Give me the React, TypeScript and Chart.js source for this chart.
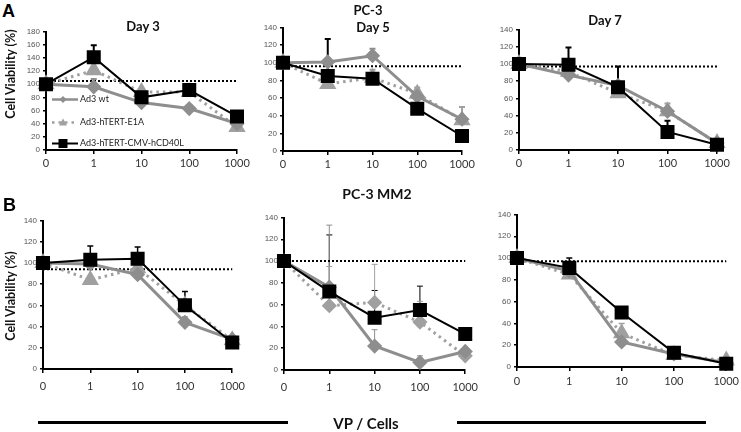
import React, { useEffect, useRef } from 'react';
import { Chart, registerables } from 'chart.js';
Chart.register(...registerables);

// ---------- data ----------
const doses = ['0', '1', '10', '100', '1000'];
const seriesNames = ['Ad3 wt', 'Ad3-hTERT-E1A', 'Ad3-hTERT-CMV-hCD40L'];

// A: PC-3, Day 3
const a3Wt = [100, 96, 72, 63, 40];
const a3E1a = [100, 121, 88, 88, 35];
const a3Cd40l = [100, 141, 80, 91, 51];
const a3WtErr = [0, 12, 0, 5, 0];
const a3E1aErr = [0, 0, 0, 0, 0];
const a3Cd40lErr = [0, 18, 0, 0, 0];
const a3Ref = [105, 105, 105, 105, 105];

// A: PC-3, Day 5
const a5Wt = [100, 101, 108, 62, 36];
const a5E1a = [100, 76, 83, 65, 35];
const a5Cd40l = [100, 85, 82, 48, 17];
const a5WtErr = [0, 0, 8, 0, 0];
const a5E1aErr = [0, 0, 9, 7, 15];
const a5Cd40lErr = [0, 42, 0, 0, 0];
const a5Ref = [96, 96, 96, 96, 96];

// A: PC-3, Day 7
const a7Wt = [100, 87, 75, 45, 8];
const a7E1a = [100, 91, 66, 45, 8];
const a7Cd40l = [100, 99, 73, 21, 6];
const a7WtErr = [0, 0, 0, 0, 0];
const a7E1aErr = [0, 0, 0, 9, 0];
const a7Cd40lErr = [0, 20, 24, 13, 0];
const a7Ref = [97, 97, 97, 97, 97];

// B: PC-3 MM2, Day 3
const b3Wt = [100, 99, 89, 44, 28];
const b3E1a = [100, 84, 95, 60, 27];
const b3Cd40l = [100, 103, 104, 60, 25];
const b3WtErr = [0, 0, 0, 5, 0];
const b3E1aErr = [0, 0, 0, 0, 0];
const b3Cd40lErr = [0, 13, 11, 13, 0];
const b3Ref = [94, 94, 94, 94, 94];

// B: PC-3 MM2, Day 5
const b5Wt = [100, 76, 22, 7, 17];
const b5E1a = [100, 59, 62, 44, 13];
const b5Cd40l = [100, 72, 48, 55, 33];
const b5WtErr = [0, 57, 15, 6, 0];
const b5E1aErr = [0, 36, 35, 19, 0];
const b5Cd40lErr = [0, 52, 25, 22, 0];
const b5Ref = [100, 100, 100, 100, 100];

// B: PC-3 MM2, Day 7
const b7Wt = [100, 88, 23, 12, 4];
const b7E1a = [100, 85, 31, 11, 6];
const b7Cd40l = [100, 91, 50, 13, 3];
const b7WtErr = [0, 0, 0, 0, 0];
const b7E1aErr = [0, 0, 9, 0, 0];
const b7Cd40lErr = [0, 9, 5, 0, 0];
const b7Ref = [97, 97, 97, 97, 97];

// ---------- styles / layout ----------
const GRAY = '#8e8e8e';
const LGRAY = '#a0a0a0';
const YW = 34;
const PT = 10;
const PR = 16;
const XH = 24;

type PanelDef = {
  left: number; right: number; top: number; bottom: number; yMax: number;
  wt: number[]; e1a: number[]; cd40l: number[]; ref: number[];
  wtErr: number[]; e1aErr: number[]; cd40lErr: number[];
  e1aStyle: string; xPad: number; errW: number; legend?: boolean;
};

const panels: PanelDef[] = [
  { left: 46, right: 237, top: 31, bottom: 150, yMax: 180, wt: a3Wt, e1a: a3E1a, cd40l: a3Cd40l, ref: a3Ref, wtErr: a3WtErr, e1aErr: a3E1aErr, cd40lErr: a3Cd40lErr, e1aStyle: 'triangle', xPad: 3, errW: 2, legend: true },
  { left: 283, right: 462, top: 27, bottom: 151, yMax: 140, wt: a5Wt, e1a: a5E1a, cd40l: a5Cd40l, ref: a5Ref, wtErr: a5WtErr, e1aErr: a5E1aErr, cd40lErr: a5Cd40lErr, e1aStyle: 'triangle', xPad: 3, errW: 2 },
  { left: 519, right: 717, top: 29, bottom: 150, yMax: 140, wt: a7Wt, e1a: a7E1a, cd40l: a7Cd40l, ref: a7Ref, wtErr: a7WtErr, e1aErr: a7E1aErr, cd40lErr: a7Cd40lErr, e1aStyle: 'triangle', xPad: 3, errW: 2 },
  { left: 43, right: 236, top: 220, bottom: 369, yMax: 140, wt: b3Wt, e1a: b3E1a, cd40l: b3Cd40l, ref: b3Ref, wtErr: b3WtErr, e1aErr: b3E1aErr, cd40lErr: b3Cd40lErr, e1aStyle: 'triangle', xPad: 7, errW: 1.5 },
  { left: 284, right: 469, top: 217, bottom: 370, yMax: 140, wt: b5Wt, e1a: b5E1a, cd40l: b5Cd40l, ref: b5Ref, wtErr: b5WtErr, e1aErr: b5E1aErr, cd40lErr: b5Cd40lErr, e1aStyle: 'rectRot', xPad: 7, errW: 1 },
  { left: 517, right: 727, top: 214, bottom: 367, yMax: 140, wt: b7Wt, e1a: b7E1a, cd40l: b7Cd40l, ref: b7Ref, wtErr: b7WtErr, e1aErr: b7E1aErr, cd40lErr: b7Cd40lErr, e1aStyle: 'triangle', xPad: 4, errW: 1.5 },
];

const errorBarPlugin = {
  id: 'errorBars',
  beforeDatasetsDraw(chart: any) {
    const ctx = chart.ctx;
    const y = chart.scales.y;
    chart.data.datasets.forEach((ds: any, i: number) => {
      if (!ds.err) return;
      const meta = chart.getDatasetMeta(i);
      ds.err.forEach((e: number, j: number) => {
        if (!e) return;
        const pt = meta.data[j];
        const yTop = y.getPixelForValue(ds.data[j] + e);
        ctx.save();
        ctx.strokeStyle = ds.borderColor;
        ctx.lineWidth = ds.errW || 1.5;
        ctx.setLineDash([]);
        ctx.beginPath();
        ctx.moveTo(pt.x, pt.y);
        ctx.lineTo(pt.x, yTop);
        ctx.moveTo(pt.x - 3, yTop);
        ctx.lineTo(pt.x + 3, yTop);
        ctx.stroke();
        ctx.restore();
      });
    });
  },
};

const legendPlugin = {
  id: 'insideLegend',
  afterDraw(chart: any) {
    if (!chart.options.plugins.insideLegend?.show) return;
    const ctx = chart.ctx;
    const a = chart.chartArea;
    const x0 = a.left + 6, x1 = a.left + 32, tx = a.left + 34;
    const rows = [
      { y: a.top + 68, name: seriesNames[0], color: GRAY, dash: [] as number[], w: 2.5, kind: 'diamond' },
      { y: a.top + 91, name: seriesNames[1], color: LGRAY, dash: [2.5, 4], w: 2.5, kind: 'triangle' },
      { y: a.top + 112, name: seriesNames[2], color: '#000', dash: [] as number[], w: 2, kind: 'square' },
    ];
    ctx.save();
    rows.forEach((r) => {
      ctx.strokeStyle = r.color;
      ctx.lineWidth = r.w;
      ctx.setLineDash(r.dash);
      ctx.beginPath();
      ctx.moveTo(x0, r.y);
      ctx.lineTo(x1, r.y);
      ctx.stroke();
      ctx.setLineDash([]);
      ctx.fillStyle = r.color;
      const cx = (x0 + x1) / 2 - 2;
      ctx.beginPath();
      if (r.kind === 'diamond') {
        ctx.moveTo(cx, r.y - 3.5); ctx.lineTo(cx + 3.5, r.y); ctx.lineTo(cx, r.y + 3.5); ctx.lineTo(cx - 3.5, r.y);
      } else if (r.kind === 'triangle') {
        ctx.moveTo(cx, r.y - 4); ctx.lineTo(cx + 4, r.y + 3); ctx.lineTo(cx - 4, r.y + 3);
      } else {
        ctx.rect(cx - 4.5, r.y - 4.5, 9, 9);
      }
      ctx.closePath();
      ctx.fill();
      ctx.fillStyle = '#222';
      ctx.font = '9px Lato, "Open Sans", sans-serif';
      ctx.textBaseline = 'middle';
      ctx.fillText(r.name, tx, r.y);
    });
    ctx.restore();
  },
};

function Panel({ p }: { p: PanelDef }) {
  const ref = useRef<HTMLCanvasElement>(null);
  const cLeft = p.left - YW;
  const cTop = p.top - PT;
  const width = p.right + PR - cLeft;
  const height = p.bottom + XH - cTop;
  useEffect(() => {
    if (!ref.current) return;
    const chart = new Chart(ref.current, {
      type: 'line',
      data: {
        labels: doses,
        datasets: [
          { label: seriesNames[2], data: p.cd40l, borderColor: '#000', backgroundColor: '#000', pointBorderColor: '#000', borderWidth: 2, pointStyle: 'rect', pointRadius: 8.5, order: 0, clip: false, err: p.cd40lErr, errW: p.errW } as any,
          { label: seriesNames[0], data: p.wt, borderColor: GRAY, backgroundColor: GRAY, pointBorderColor: GRAY, borderWidth: 3, pointStyle: 'rectRot', pointRadius: 5.5, order: 1, clip: false, err: p.wtErr, errW: p.errW } as any,
          { label: seriesNames[1], data: p.e1a, borderColor: LGRAY, backgroundColor: LGRAY, pointBorderColor: LGRAY, borderWidth: 3, borderDash: [2.5, 4], pointStyle: p.e1aStyle, pointRadius: p.e1aStyle === 'triangle' ? 7 : 5.5, order: 2, clip: false, err: p.e1aErr, errW: p.errW } as any,
          { label: 'ref', data: p.ref, borderColor: '#000', borderWidth: 2, borderDash: [2, 2], pointRadius: 0, order: 3, clip: false } as any,
        ],
      },
      options: {
        animation: false,
        responsive: false,
        devicePixelRatio: 1,
        events: [],
        layout: { padding: { top: PT, right: PR, left: 0, bottom: 0 } },
        plugins: { legend: { display: false }, tooltip: { enabled: false }, insideLegend: { show: !!p.legend } } as any,
        elements: { line: { tension: 0 } },
        scales: {
          x: {
            type: 'category',
            offset: false,
            grid: { drawOnChartArea: false, drawTicks: true, tickLength: 4, color: '#000', lineWidth: 1.5 },
            border: { display: true, color: '#000', width: 2 },
            ticks: { font: { family: 'Lato, "Open Sans", sans-serif', size: 11 }, color: '#333', padding: p.xPad, maxRotation: 0, autoSkip: false },
            afterFit: (s: any) => { s.height = XH; },
          },
          y: {
            min: 0,
            max: p.yMax,
            grid: { drawOnChartArea: false, drawTicks: true, tickLength: 3, color: '#000', lineWidth: 1.5 },
            border: { display: true, color: '#000', width: 2 },
            ticks: { stepSize: 20, font: { family: '"Liberation Sans", Arial, sans-serif', size: 8 }, color: '#555', padding: 3 },
            afterFit: (s: any) => { s.width = YW; },
          },
        },
      } as any,
      plugins: [errorBarPlugin, legendPlugin],
    });
    return () => chart.destroy();
  }, []);
  return (
    <canvas ref={ref} width={width} height={height}
      style={{ position: 'absolute', left: cLeft, top: cTop, width, height }} />
  );
}

const txt = (s: string, x: number, y: number, size: number, extra: any = {}) => (
  <div style={{
    position: 'absolute', left: x, top: y, transform: 'translate(-50%,-50%)', whiteSpace: 'nowrap',
    fontFamily: 'Lato, "Open Sans", sans-serif', fontWeight: 700, fontSize: size, color: '#111', lineHeight: 1, zIndex: 2, ...extra,
  }}>{s}</div>
);

export default function App() {
  useEffect(() => {
    document.body.style.margin = '0';
  }, []);
  return (
    <div style={{ position: 'relative', width: 741, height: 432, overflow: 'hidden', background: '#fff' }}>
      {panels.map((p, i) => <Panel key={i} p={p} />)}
      <div style={{ position: 'absolute', left: 2, top: 2, fontFamily: '"Liberation Sans", Arial, sans-serif', fontWeight: 700, fontSize: 18, lineHeight: 1 }}>A</div>
      <div style={{ position: 'absolute', left: 3, top: 196, fontFamily: '"Liberation Sans", Arial, sans-serif', fontWeight: 700, fontSize: 18, lineHeight: 1 }}>B</div>
      {txt('Day 3', 143, 26, 13)}
      {txt('PC-3', 368, 10, 13)}
      {txt('Day 5', 373, 27, 13)}
      {txt('Day 7', 605, 20, 13)}
      {txt('PC-3 MM2', 377, 194, 14)}
      {txt('Cell Viability (%)', 11, 74, 12.5, { transform: 'translate(-50%,-50%) rotate(-90deg)' })}
      {txt('Cell Viability (%)', 11, 296, 12.5, { transform: 'translate(-50%,-50%) rotate(-90deg)' })}
      {txt('VP / Cells', 366, 423, 15)}
      <div style={{ position: 'absolute', left: 38, top: 421, width: 250, height: 3, background: '#000' }} />
      <div style={{ position: 'absolute', left: 457, top: 421, width: 249, height: 3, background: '#000' }} />
    </div>
  );
}
